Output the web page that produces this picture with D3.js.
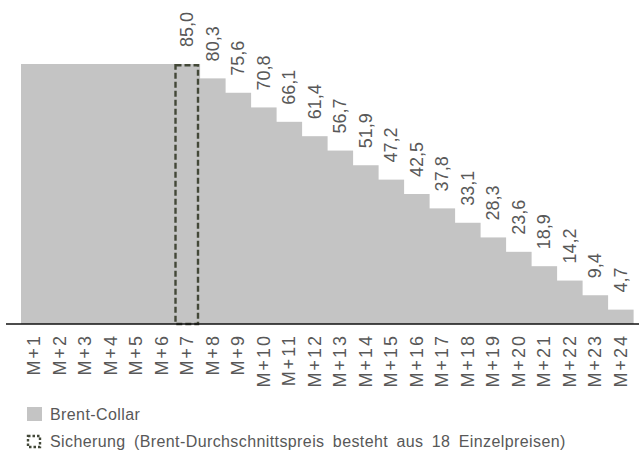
<!DOCTYPE html>
<html>
<head>
<meta charset="utf-8">
<script src="https://cdn.jsdelivr.net/npm/d3@7/dist/d3.min.js"></script>
<style>
  html, body { margin: 0; padding: 0; background: #fff; }
  svg text { font-family: "Liberation Sans", Arial, sans-serif; fill: #585858; }
</style>
</head>
<body>
<svg id="chart" width="639" height="451"></svg>
<script>
// Monthly Brent collar volumes
const months = ["M+1","M+2","M+3","M+4","M+5","M+6","M+7","M+8","M+9","M+10","M+11","M+12",
                "M+13","M+14","M+15","M+16","M+17","M+18","M+19","M+20","M+21","M+22","M+23","M+24"];
const collar = [85.0,85.0,85.0,85.0,85.0,85.0,85.0,80.3,75.6,70.8,66.1,61.4,
                56.7,51.9,47.2,42.5,37.8,33.1,28.3,23.6,18.9,14.2,9.4,4.7];
// Month whose hedge is highlighted, and first month with a value label
const hedgeMonth = "M+7";
const firstLabelled = "M+7";
const legendItems = ["Brent-Collar", "Sicherung (Brent-Durchschnittspreis besteht aus 18 Einzelpreisen)"];

const svg = d3.select("#chart");
const barColor = "#c4c4c4";
const dashColor = "#434838";

const x = d3.scaleBand().domain(months).range([21, 633]).padding(0);
const y = d3.scaleLinear().domain([0, 85]).range([324, 64]);

// Bars (contiguous step profile)
svg.append("g").selectAll("rect")
  .data(months.map((m, i) => ({ m, v: collar[i] })))
  .join("rect")
  .attr("x", d => x(d.m))
  .attr("width", x.bandwidth() + 0.6)
  .attr("y", d => y(d.v))
  .attr("height", d => y(0) - y(d.v))
  .attr("fill", barColor);

// Highlighted hedge month
const hi = months.indexOf(hedgeMonth);
svg.append("rect")
  .attr("x", x(hedgeMonth) + 1.5)
  .attr("y", y(collar[hi]) + 1.2)
  .attr("width", x.bandwidth() - 3)
  .attr("height", y(0) - y(collar[hi]) - 1.2)
  .attr("fill", "none")
  .attr("stroke", dashColor)
  .attr("stroke-width", 2.4)
  .attr("stroke-dasharray", "6,3");

// Baseline / x axis
const xAxis = d3.axisBottom(x).tickSize(0).tickPadding(0);
const gx = svg.append("g").attr("transform", `translate(0,${y(0)})`).call(xAxis);
gx.select(".domain").remove();
svg.append("line")
  .attr("x1", 6).attr("x2", 639)
  .attr("y1", y(0)).attr("y2", y(0))
  .attr("stroke", "#111").attr("stroke-width", 1.5);
gx.selectAll(".tick text")
  .attr("transform", "rotate(-90)")
  .attr("x", -10).attr("y", 0).attr("dy", "0.35em")
  .attr("text-anchor", "end")
  .style("font-size", "18px")
  .style("letter-spacing", "2px")
  .style("font-family", "'Liberation Sans', Arial, sans-serif")
  .attr("fill", "#585858");

// Value labels
const startIdx = months.indexOf(firstLabelled);
svg.append("g").selectAll("text")
  .data(months.map((m, i) => ({ m, v: collar[i], i })).filter(d => d.i >= startIdx))
  .join("text")
  .attr("transform", d => `translate(${x(d.m) + x.bandwidth() / 2},${y(d.v) - 17}) rotate(-90)`)
  .attr("dy", "0.35em")
  .attr("text-anchor", "start")
  .style("font-size", "18px")
  .text(d => d3.format(".1f")(d.v).replace(".", ","));

// Legend
const lg = svg.append("g").style("font-size", "16px").style("letter-spacing", "0.4px").style("word-spacing", "3.5px");
lg.append("rect").attr("x", 27).attr("y", 407).attr("width", 15).attr("height", 14).attr("fill", barColor);
lg.append("text").attr("x", 50).attr("y", 420).text(legendItems[0]);
lg.append("rect").attr("x", 28).attr("y", 436).attr("width", 12).attr("height", 11)
  .attr("fill", "none").attr("stroke", dashColor).attr("stroke-width", 2.4).attr("stroke-dasharray", "2.5,2");
lg.append("text").attr("x", 50).attr("y", 447).text(legendItems[1]);
</script>
</body>
</html>
